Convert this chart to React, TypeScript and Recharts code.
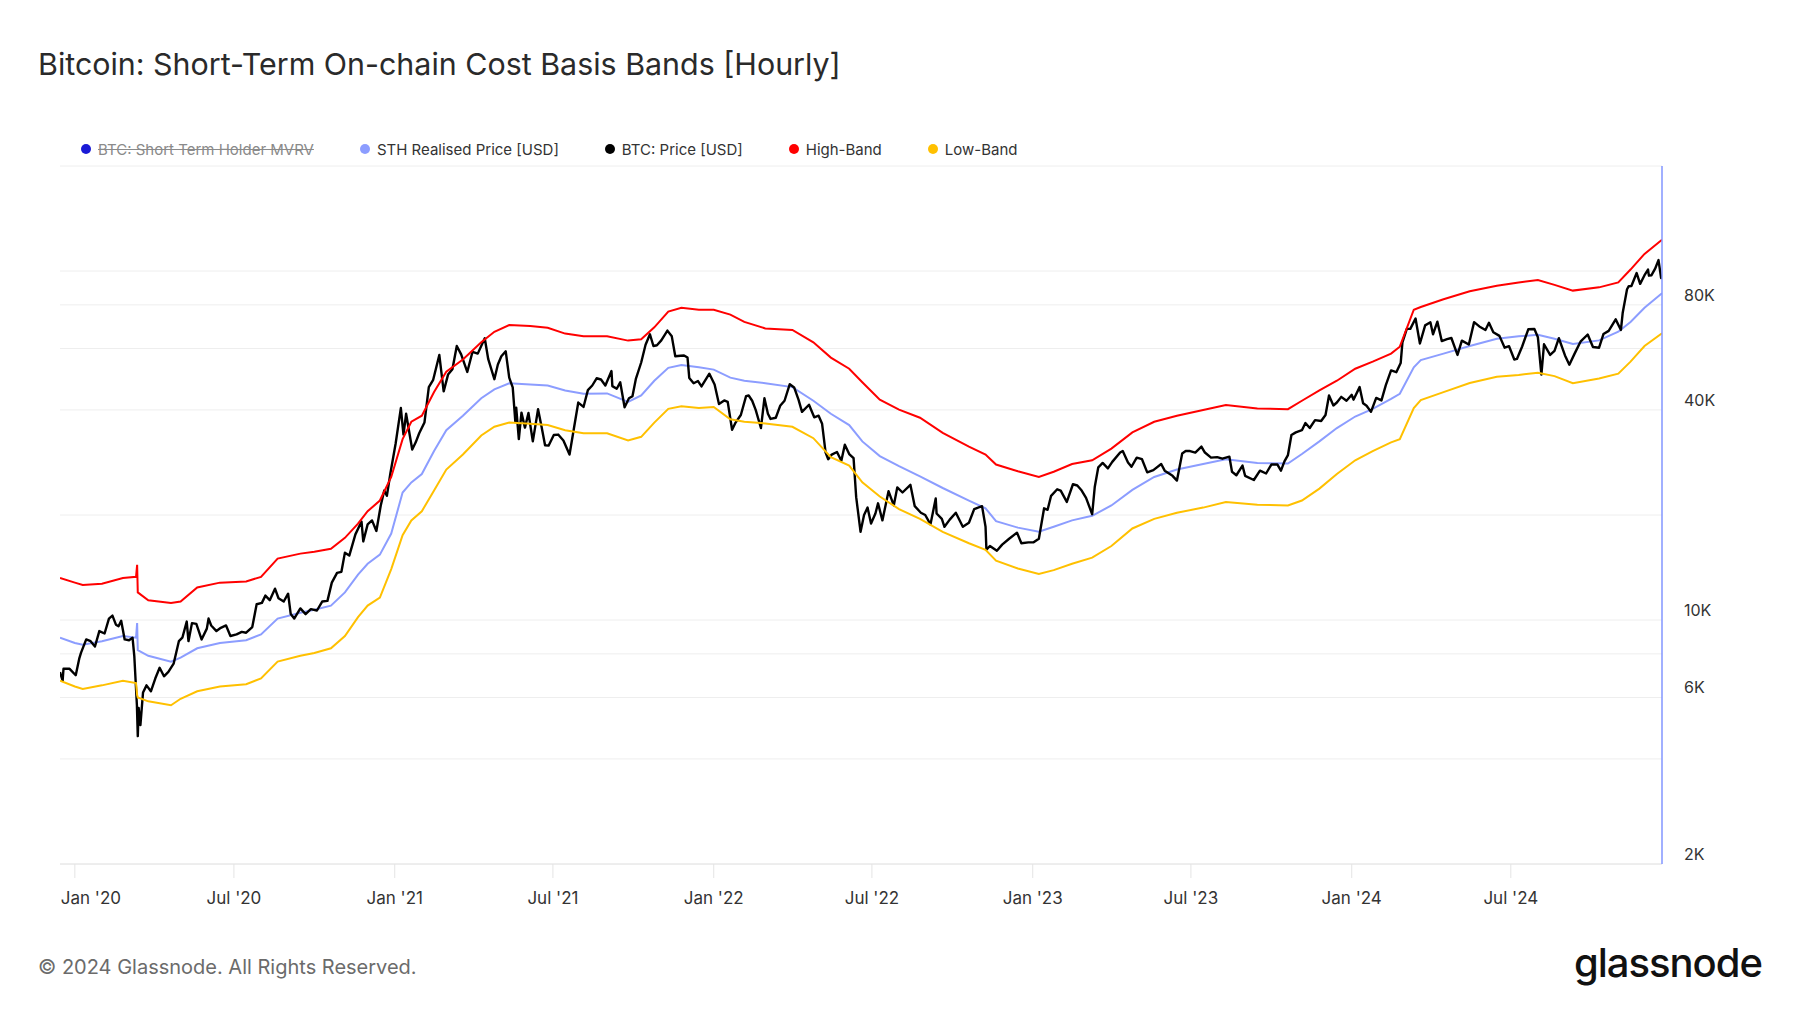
import { CartesianGrid, Line, LineChart, XAxis, YAxis } from "recharts";

// STH cost basis bands (USD)
const bandDates = [
  "2019-12-15", "2020-01-01", "2020-01-10", "2020-02-01", "2020-02-25", "2020-03-11", "2020-03-12T06:00", "2020-03-13",
  "2020-03-25", "2020-04-20", "2020-05-01", "2020-05-20", "2020-06-15", "2020-07-15", "2020-08-01", "2020-08-20",
  "2020-09-15", "2020-10-01", "2020-10-20", "2020-11-05", "2020-11-20", "2020-12-01", "2020-12-15", "2020-12-28",
  "2021-01-10", "2021-01-20", "2021-02-01", "2021-02-15", "2021-03-01", "2021-03-20", "2021-04-10", "2021-04-25",
  "2021-05-12", "2021-06-05", "2021-06-25", "2021-07-15", "2021-08-05", "2021-09-01", "2021-09-25", "2021-10-10",
  "2021-10-25", "2021-11-10", "2021-11-25", "2021-12-15",
  "2022-01-01", "2022-01-20", "2022-02-05", "2022-03-01", "2022-04-01", "2022-04-25", "2022-05-15", "2022-06-05",
  "2022-06-20", "2022-07-10", "2022-08-01", "2022-08-25", "2022-09-20", "2022-10-20", "2022-11-08", "2022-11-20",
  "2022-12-15",
  "2023-01-08", "2023-01-25", "2023-02-15", "2023-03-10", "2023-04-01", "2023-04-25", "2023-05-20", "2023-06-15",
  "2023-07-15", "2023-08-10", "2023-09-15", "2023-10-20", "2023-11-05", "2023-11-25", "2023-12-15",
  "2024-01-05", "2024-01-25", "2024-02-15", "2024-02-25", "2024-03-12", "2024-03-20", "2024-04-15", "2024-05-15",
  "2024-06-15", "2024-07-10", "2024-08-01", "2024-08-20", "2024-09-10", "2024-10-10", "2024-11-01", "2024-11-15",
  "2024-12-01", "2024-12-21",
];

const highBand = [
  13200, 12800, 12600, 12700, 13200, 13300, 14400, 12000,
  11400, 11200, 11300, 12400, 12800, 12900, 13300, 15000,
  15500, 15700, 16000, 17200, 18900, 20500, 22000, 25700,
  33000, 37000, 38500, 45000, 51500, 55800, 62500, 67000,
  70000, 69600, 68800, 66200, 65000, 65000, 63200, 63800,
  69000, 76500, 78500, 77500,
  77500, 75000, 71500, 68500, 67800, 62500, 56500, 52500,
  48000, 42800, 40100, 38000, 34400, 31400, 29800, 27900,
  26700,
  25700, 26600, 28000, 28700, 31000, 34500, 37000, 38500,
  40000, 41300, 40400, 40200, 42500, 45500, 48500,
  52500, 55000, 58000, 60700, 77500, 78900, 83000, 87500,
  90800, 92700, 94300, 91300, 87900, 89800, 92800, 101000,
  112000, 123000,
];

const sthRealisedPrice = [
  8900, 8600, 8500, 8700, 9000, 8900, 9800, 8200,
  7900, 7600, 7800, 8300, 8600, 8750, 9100, 10100,
  10500, 10700, 11000, 12000, 13500, 14500, 15400, 17700,
  23200, 24800, 26200, 30500, 35000, 38500, 43200, 45800,
  47700, 47300, 47000, 45500, 44500, 44600, 42200, 44000,
  48500, 52800, 53800, 53000,
  52200, 49500, 48500, 47700, 46500, 42500, 39000, 36200,
  32500, 29500, 27600, 25800, 23900, 22000, 20900, 19200,
  18400,
  17900, 18500, 19300, 19900, 21300, 23600, 25700, 27000,
  28000, 28900, 28200, 28100, 29900, 32500, 35500,
  38300, 40300, 43000, 44500, 53000, 55600, 58000, 61000,
  64000, 65000, 65700, 64000, 61800, 63300, 67000, 71500,
  78500, 86400,
];

const lowBand = [
  6700, 6450, 6350, 6500, 6700, 6600, 6100, 6000,
  5850, 5700, 5950, 6250, 6450, 6550, 6800, 7600,
  7900, 8050, 8300, 9000, 10200, 11000, 11600, 14000,
  17500, 19300, 20500, 23500, 27000, 29800, 33800, 35800,
  36800, 36500, 36200, 35000, 34300, 34300, 32700, 33500,
  36800, 40300, 41000, 40500,
  40800, 37600, 37000, 36600, 35800, 33200, 29300, 27700,
  24800, 22600, 20800, 19500, 17900, 16600, 15900, 14800,
  14050,
  13550, 13900, 14500, 15100, 16300, 18300, 19500, 20300,
  21000, 21800, 21400, 21300, 22000, 23800, 26200,
  28700, 30500, 32300, 33000, 40500, 42700, 45000, 47800,
  49800, 50400, 51100, 50000, 47700, 49200, 50800, 55000,
  61000, 66300,
];

// BTC price (USD)
const priceDates = [
  "2019-12-15", "2019-12-18", "2019-12-19", "2019-12-26", "2020-01-02", "2020-01-06", "2020-01-08", "2020-01-14",
  "2020-01-19", "2020-01-24", "2020-01-29", "2020-02-04", "2020-02-09", "2020-02-13", "2020-02-17", "2020-02-20",
  "2020-02-23", "2020-02-27", "2020-03-03", "2020-03-07", "2020-03-09", "2020-03-12", "2020-03-13", "2020-03-14",
  "2020-03-16", "2020-03-19", "2020-03-23", "2020-03-28", "2020-04-02", "2020-04-07", "2020-04-12", "2020-04-17",
  "2020-04-23", "2020-04-29", "2020-05-03", "2020-05-08", "2020-05-10", "2020-05-14", "2020-05-19", "2020-05-25",
  "2020-05-31", "2020-06-02", "2020-06-05", "2020-06-11", "2020-06-16", "2020-06-22", "2020-06-27", "2020-07-04",
  "2020-07-10", "2020-07-15", "2020-07-22", "2020-07-27", "2020-08-02", "2020-08-06", "2020-08-11", "2020-08-17",
  "2020-08-21", "2020-08-27", "2020-09-01", "2020-09-04", "2020-09-08", "2020-09-15", "2020-09-21", "2020-09-27",
  "2020-10-04", "2020-10-10", "2020-10-16", "2020-10-21", "2020-10-27", "2020-11-01", "2020-11-05", "2020-11-10",
  "2020-11-17", "2020-11-24", "2020-11-26", "2020-12-01", "2020-12-06", "2020-12-11", "2020-12-16", "2020-12-20",
  "2020-12-23", "2020-12-27", "2021-01-02", "2021-01-08", "2021-01-11", "2021-01-14", "2021-01-21", "2021-01-25",
  "2021-01-29", "2021-02-04", "2021-02-09", "2021-02-14", "2021-02-21", "2021-02-26", "2021-03-03", "2021-03-08",
  "2021-03-13", "2021-03-18", "2021-03-25", "2021-03-31", "2021-04-06", "2021-04-14", "2021-04-18", "2021-04-25",
  "2021-04-29", "2021-05-03", "2021-05-08", "2021-05-12", "2021-05-16", "2021-05-19", "2021-05-20", "2021-05-23",
  "2021-05-26", "2021-05-30", "2021-06-03", "2021-06-08", "2021-06-14", "2021-06-18", "2021-06-22", "2021-06-26",
  "2021-07-02", "2021-07-07", "2021-07-13", "2021-07-20", "2021-07-25", "2021-07-30", "2021-08-05", "2021-08-10",
  "2021-08-15", "2021-08-20", "2021-08-25", "2021-08-30", "2021-09-06", "2021-09-07", "2021-09-12", "2021-09-16",
  "2021-09-21", "2021-09-26", "2021-09-30", "2021-10-04", "2021-10-10", "2021-10-15", "2021-10-20", "2021-10-24",
  "2021-10-28", "2021-11-02", "2021-11-09", "2021-11-14", "2021-11-18", "2021-11-24", "2021-11-28", "2021-12-02",
  "2021-12-04", "2021-12-09", "2021-12-14", "2021-12-18", "2021-12-27", "2022-01-02", "2022-01-07", "2022-01-13",
  "2022-01-17", "2022-01-22", "2022-01-26", "2022-02-01", "2022-02-07", "2022-02-10", "2022-02-14", "2022-02-18",
  "2022-02-24", "2022-02-28", "2022-03-04", "2022-03-07", "2022-03-13", "2022-03-18", "2022-03-23", "2022-03-29",
  "2022-04-03", "2022-04-08", "2022-04-12", "2022-04-20", "2022-04-26", "2022-05-01", "2022-05-05", "2022-05-09",
  "2022-05-12", "2022-05-16", "2022-05-22", "2022-05-27", "2022-05-31", "2022-06-05", "2022-06-10", "2022-06-13",
  "2022-06-18", "2022-06-22", "2022-06-26", "2022-06-30", "2022-07-05", "2022-07-08", "2022-07-13", "2022-07-20",
  "2022-07-26", "2022-07-30", "2022-08-05", "2022-08-14", "2022-08-19", "2022-08-26", "2022-08-31", "2022-09-06",
  "2022-09-12", "2022-09-13", "2022-09-19", "2022-09-22", "2022-09-28", "2022-10-05", "2022-10-13", "2022-10-20",
  "2022-10-26", "2022-11-04", "2022-11-08", "2022-11-09", "2022-11-13", "2022-11-21", "2022-11-27", "2022-12-05",
  "2022-12-14", "2022-12-19", "2022-12-27", "2023-01-02", "2023-01-08", "2023-01-14", "2023-01-18", "2023-01-22",
  "2023-01-29", "2023-02-02", "2023-02-09", "2023-02-16", "2023-02-21", "2023-02-26", "2023-03-03", "2023-03-10",
  "2023-03-13", "2023-03-17", "2023-03-22", "2023-03-28", "2023-04-02", "2023-04-11", "2023-04-14", "2023-04-20",
  "2023-04-24", "2023-04-30", "2023-05-06", "2023-05-12", "2023-05-19", "2023-05-28", "2023-06-01", "2023-06-10",
  "2023-06-15", "2023-06-21", "2023-06-25", "2023-06-30", "2023-07-06", "2023-07-13", "2023-07-17", "2023-07-24",
  "2023-07-31", "2023-08-06", "2023-08-14", "2023-08-17", "2023-08-22", "2023-08-29", "2023-09-01", "2023-09-11",
  "2023-09-18", "2023-09-25", "2023-10-01", "2023-10-08", "2023-10-12", "2023-10-16", "2023-10-20", "2023-10-24",
  "2023-10-29", "2023-11-05", "2023-11-09", "2023-11-14", "2023-11-20", "2023-11-27", "2023-12-02", "2023-12-06",
  "2023-12-11", "2023-12-15", "2023-12-20", "2023-12-26", "2024-01-01", "2024-01-03", "2024-01-10", "2024-01-14",
  "2024-01-18", "2024-01-23", "2024-01-29", "2024-02-04", "2024-02-09", "2024-02-15", "2024-02-21", "2024-02-26",
  "2024-02-28", "2024-03-04", "2024-03-08", "2024-03-14", "2024-03-19", "2024-03-25", "2024-03-31", "2024-04-03",
  "2024-04-08", "2024-04-13", "2024-04-19", "2024-04-24", "2024-05-01", "2024-05-06", "2024-05-14", "2024-05-20",
  "2024-05-26", "2024-06-02", "2024-06-06", "2024-06-11", "2024-06-18", "2024-06-24", "2024-06-29", "2024-07-05",
  "2024-07-08", "2024-07-14", "2024-07-21", "2024-07-28", "2024-08-01", "2024-08-05", "2024-08-08", "2024-08-15",
  "2024-08-20", "2024-08-25", "2024-09-01", "2024-09-06", "2024-09-12", "2024-09-19", "2024-09-27", "2024-10-03",
  "2024-10-10", "2024-10-15", "2024-10-21", "2024-10-29", "2024-11-04", "2024-11-06", "2024-11-11", "2024-11-13",
  "2024-11-16", "2024-11-22", "2024-11-26", "2024-12-01", "2024-12-05", "2024-12-06", "2024-12-09", "2024-12-13",
  "2024-12-17", "2024-12-20", "2024-12-21",
];

const btcPrice = [
  7100, 6700, 7250, 7250, 6950, 7750, 8050, 8800,
  8700, 8400, 9300, 9150, 10100, 10300, 9700, 9600,
  9950, 8800, 8750, 8900, 7900, 5700, 4650, 5600,
  5000, 6200, 6500, 6250, 6800, 7300, 6900, 7100,
  7500, 8700, 8900, 9900, 8700, 9800, 9750, 8800,
  9450, 10100, 9650, 9300, 9500, 9650, 9000, 9100,
  9250, 9200, 9550, 11100, 11200, 11750, 11400, 12300,
  11550, 11300, 11900, 10400, 10100, 10800, 10400, 10750,
  10650, 11300, 11350, 12800, 13650, 13750, 15600, 15300,
  17600, 19150, 16800, 18800, 19300, 18000, 21300, 23500,
  22700, 26300, 32000, 40500, 34000, 39000, 30800, 32300,
  34300, 36800, 46500, 48800, 57500, 45200, 50500, 52300,
  61000, 57700, 51400, 58700, 58000, 64200, 55900, 49000,
  54000, 57000, 58900, 49500, 46400, 37000, 40600, 33000,
  39300, 35600, 39200, 32500, 40200, 35800, 31700, 31600,
  33900, 34000, 32700, 29800, 35400, 42000, 40800, 45600,
  47000, 49300, 48900, 47000, 51700, 46800, 46000, 48000,
  40700, 43200, 43800, 49200, 54700, 61500, 65900, 61000,
  61300, 63300, 67500, 65000, 57000, 57200, 57300, 56500,
  49400, 47700, 48400, 46700, 50800, 47300, 41600, 42600,
  42200, 35100, 36800, 38700, 43800, 44000, 42500, 40000,
  35500, 43200, 39000, 37700, 38000, 41100, 42500, 47400,
  46400, 42800, 39500, 41400, 38100, 38500, 36500, 30200,
  28900, 29800, 30300, 28600, 31800, 29900, 29100, 22500,
  17900, 20000, 21000, 18900, 20200, 21600, 19300, 23400,
  21300, 24000, 23200, 24400, 21200, 20300, 20000, 18800,
  22300, 20200, 19500, 18500, 19400, 20300, 18500, 19000,
  20800, 21200, 18500, 15900, 16300, 15800, 16450, 17100,
  17800, 16600, 16700, 16700, 17100, 20900, 20700, 22700,
  23700, 23500, 21800, 24500, 24300, 23500, 22400, 20100,
  24100, 27400, 28200, 27200, 28400, 30200, 30500, 28300,
  27500, 29200, 28900, 26500, 26900, 28000, 26800, 25900,
  25100, 30000, 30500, 30500, 30200, 31400, 30200, 29200,
  29300, 29000, 29400, 26600, 26000, 27700, 25900, 25200,
  26800, 26300, 27900, 27900, 26800, 28500, 29700, 33900,
  34500, 35000, 36700, 35500, 37400, 37200, 38700, 44000,
  41200, 42000, 43600, 42500, 44200, 42800, 46500, 41800,
  41100, 39500, 43300, 42600, 47100, 51900, 51300, 54500,
  62500, 68300, 68300, 73100, 62000, 69900, 71300, 65900,
  71600, 63000, 63800, 64300, 57500, 63200, 61600, 71400,
  69400, 67800, 71100, 66800, 65200, 60300, 60900, 55800,
  56000, 60800, 68100, 68200, 64600, 50500, 61700, 57500,
  59100, 64200, 57300, 53900, 58000, 62900, 65800, 60600,
  60300, 66000, 67400, 72700, 67800, 75800, 88700, 90500,
  90600, 98700, 91900, 97300, 101000, 97000, 97300, 101400,
  107500, 95500, 97000,
];

const xTickDates = [
  "2020-01-01", "2020-07-01", "2021-01-01", "2021-07-01", "2022-01-01",
  "2022-07-01", "2023-01-01", "2023-07-01", "2024-01-01", "2024-07-01",
];
const yGridValues = [2000, 4000, 6000, 8000, 10000, 20000, 40000, 60000, 80000, 100000, 200000];
const yLabelValues = [2000, 6000, 10000, 40000, 80000];
const monthNames = ["Jan", "Feb", "Mar", "Apr", "May", "Jun", "Jul", "Aug", "Sep", "Oct", "Nov", "Dec"];

const legendItems = [
  { label: "BTC: Short Term Holder MVRV", color: "#1a1ad6", disabled: true },
  { label: "STH Realised Price [USD]", color: "#8c9dff", disabled: false },
  { label: "BTC: Price [USD]", color: "#000000", disabled: false },
  { label: "High-Band", color: "#ff0000", disabled: false },
  { label: "Low-Band", color: "#ffc000", disabled: false },
];

const toTime = (d: string) => Date.parse(d.length > 10 ? d + "Z" : d);

const bandRows = bandDates.map((d, i) => ({
  t: toTime(d),
  high: highBand[i],
  sth: sthRealisedPrice[i],
  low: lowBand[i],
}));
const priceRows = priceDates.map((d, i) => ({ t: toTime(d), price: btcPrice[i] }));

const xStart = toTime("2019-12-15");
const xEnd = toTime("2024-12-21");
const xTicks = xTickDates.map(toTime);

const FONT = "Inter, 'Noto Sans', sans-serif";

function formatDate(v: number) {
  const d = new Date(v);
  return `${monthNames[d.getUTCMonth()]} '${String(d.getUTCFullYear()).slice(2)}`;
}

function XTick(props: any) {
  const { x, y, payload } = props;
  // glassnode keeps the first label inside the plot
  const shift = payload.value === xTicks[0] ? 16 : 0;
  return (
    <text x={x + shift} y={y} dy={13} textAnchor="middle" fill="#333" fontSize={17} fontFamily={FONT}>
      {formatDate(payload.value)}
    </text>
  );
}

function YTick(props: any) {
  const { x, y, payload } = props;
  if (!yLabelValues.includes(payload.value)) return null;
  return (
    <text x={x} y={y} dy={-4} textAnchor="start" fill="#333" fontSize={16} fontFamily={FONT}>
      {`${payload.value / 1000}K`}
    </text>
  );
}

export default function App() {
  return (
    <div
      style={{
        position: "absolute",
        left: 0,
        top: 0,
        width: 1800,
        height: 1013,
        background: "#fff",
        fontFamily: FONT,
        overflow: "hidden",
      }}
    >
      {/* TITLE */}
      <div
        style={{
          position: "absolute",
          left: 38,
          top: 46,
          fontSize: 30.4,
          lineHeight: "36px",
          color: "#2a2a2a",
        }}
      >
        Bitcoin: Short-Term On-chain Cost Basis Bands [Hourly]
      </div>

      {/* LEGEND */}
      <div
        style={{
          position: "absolute",
          left: 81,
          top: 139,
          height: 20,
          display: "flex",
          alignItems: "center",
          fontSize: 15,
        }}
      >
        {legendItems.map((item) => (
          <div key={item.label} style={{ display: "flex", alignItems: "center", marginRight: 46 }}>
            <div
              style={{
                width: 10,
                height: 10,
                borderRadius: 5,
                background: item.color,
                marginRight: 7,
              }}
            />
            <span
              style={{
                color: item.disabled ? "#8a8a8a" : "#333",
                textDecoration: item.disabled ? "line-through" : "none",
              }}
            >
              {item.label}
            </span>
          </div>
        ))}
      </div>

      {/* CHART */}
      <div style={{ position: "absolute", left: 0, top: 0 }}>
        <LineChart width={1800} height={940} margin={{ top: 166, right: 58, left: 60, bottom: 46 }}>
          <CartesianGrid stroke="#eeeeee" vertical={false} />
          <XAxis
            dataKey="t"
            type="number"
            domain={[xStart, xEnd]}
            ticks={xTicks}
            allowDataOverflow
            height={30}
            axisLine={{ stroke: "#e4e4e4" }}
            tickLine={{ stroke: "#e4e4e4" }}
            tickSize={14}
            tickMargin={13}
            tick={<XTick />}
          />
          <YAxis
            orientation="right"
            scale="log"
            domain={[2000, 200000]}
            ticks={yGridValues}
            allowDataOverflow
            width={80}
            axisLine={{ stroke: "#8296ff", strokeWidth: 1.5 }}
            tickLine={false}
            tickSize={0}
            tickMargin={22}
            tick={<YTick />}
          />
          <Line
            data={bandRows}
            dataKey="sth"
            type="linear"
            stroke="#8c9dff"
            strokeWidth={2}
            dot={false}
            isAnimationActive={false}
          />
          <Line
            data={priceRows}
            dataKey="price"
            type="linear"
            stroke="#000000"
            strokeWidth={2.4}
            strokeLinejoin="round"
            dot={false}
            isAnimationActive={false}
          />
          <Line
            data={bandRows}
            dataKey="high"
            type="linear"
            stroke="#ff0000"
            strokeWidth={2}
            dot={false}
            isAnimationActive={false}
          />
          <Line
            data={bandRows}
            dataKey="low"
            type="linear"
            stroke="#ffc000"
            strokeWidth={2}
            dot={false}
            isAnimationActive={false}
          />
        </LineChart>
      </div>

      {/* FOOTER */}
      <div style={{ position: "absolute", left: 38, top: 955, fontSize: 20, color: "#6b6b6b" }}>
        © 2024 Glassnode. All Rights Reserved.
      </div>
      <div
        style={{
          position: "absolute",
          right: 38,
          top: 938,
          fontSize: 40,
          fontWeight: 500,
          letterSpacing: -1,
          color: "#111",
        }}
      >
        glassnode
      </div>
    </div>
  );
}
